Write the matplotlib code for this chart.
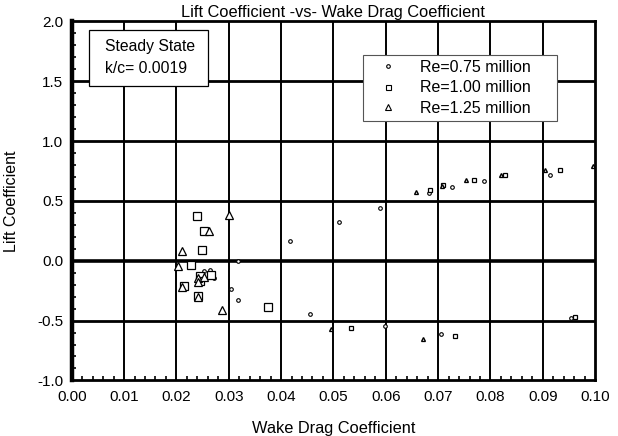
import matplotlib
matplotlib.use("Agg")
import matplotlib.pyplot as plt
from matplotlib.ticker import MultipleLocator
from matplotlib.patches import Rectangle

plt.rcParams['font.family'] = ['Liberation Sans', 'DejaVu Sans']

# Re = 0.75 million (circles)
re075_x = [0.0318, 0.0304, 0.0317, 0.0252, 0.0265, 0.0272, 0.0417, 0.0455, 0.0510,
           0.0589, 0.0598, 0.0683, 0.0706, 0.0727, 0.0787, 0.0913, 0.0953]
re075_y = [0.000, -0.239, -0.328, -0.086, -0.078, -0.147, 0.162, -0.448, 0.321,
           0.440, -0.546, 0.568, -0.615, 0.618, 0.666, 0.718, -0.479]

# Re = 1.00 million (squares) - low-drag cluster and high-drag points
re100_x = [0.0239, 0.0253, 0.0248, 0.0228, 0.0215, 0.0241, 0.0246, 0.0267, 0.0246, 0.0375]
re100_y = [0.376, 0.251, 0.089, -0.037, -0.211, -0.295, -0.128, -0.117, -0.167, -0.389]
re100_x2 = [0.0533, 0.0684, 0.0710, 0.0733, 0.0768, 0.0828, 0.0933, 0.0961]
re100_y2 = [-0.560, 0.591, 0.630, -0.627, 0.677, 0.716, 0.755, -0.470]

# Re = 1.25 million (triangles)
re125_x = [0.0300, 0.0263, 0.0211, 0.0203, 0.0210, 0.0242, 0.0288, 0.0241, 0.0253, 0.0241]
re125_y = [0.382, 0.246, 0.081, -0.044, -0.222, -0.306, -0.412, -0.147, -0.139, -0.175]
re125_x2 = [0.0495, 0.0657, 0.0672, 0.0707, 0.0754, 0.0821, 0.0905, 0.0996]
re125_y2 = [-0.573, 0.571, -0.652, 0.627, 0.672, 0.713, 0.758, 0.794]

labels = ["Re=0.75 million", "Re=1.00 million", "Re=1.25 million"]
x_ticks = [0.00, 0.01, 0.02, 0.03, 0.04, 0.05, 0.06, 0.07, 0.08, 0.09, 0.10]
y_ticks = [-1.0, -0.5, 0.0, 0.5, 1.0, 1.5, 2.0]

fig = plt.figure(figsize=(6.18, 4.36), dpi=100)
ax = fig.add_axes([0.116, 0.1275, 0.847, 0.8235])
ax.set_xlim(0, 0.10)
ax.set_ylim(-1.0, 2.0)

# grid
for xv in x_ticks[1:-1]:
    ax.axvline(xv, color='black', lw=1.4, zorder=1)
for yv in y_ticks[1:-1]:
    ax.axhline(yv, color='black', lw=2.6 if yv == 0 else 2.0, zorder=1)

kw = dict(linestyle='none', color='black', markerfacecolor='white', zorder=3)
ax.plot(re075_x, re075_y, marker='o', ms=2.6, mew=0.8, **kw)
ax.plot(re100_x, re100_y, marker='s', ms=5.4, mew=0.9, **kw)
ax.plot(re100_x2, re100_y2, marker='s', ms=3.0, mew=0.9, **kw)
ax.plot(re125_x, re125_y, marker='^', ms=5.6, mew=0.9, **kw)
ax.plot(re125_x2, re125_y2, marker='^', ms=2.8, mew=1.0, **kw)

# legend
h1, = ax.plot([], [], marker='o', ms=2.6, mew=0.8, **kw)
h2, = ax.plot([], [], marker='s', ms=3.6, mew=0.8, **kw)
h3, = ax.plot([], [], marker='^', ms=3.8, mew=0.8, **kw)
leg = ax.legend([h1, h2, h3], labels, loc='upper left',
                bbox_to_anchor=(0.557, 0.906, 0.370, 0.0), mode='expand',
                fontsize=11.5, frameon=True,
                fancybox=False, edgecolor='#555555', framealpha=1,
                handlelength=2.5, handletextpad=0.75, borderpad=0.3,
                labelspacing=0.34, borderaxespad=0)
leg.get_frame().set_linewidth(0.8)
leg.set_zorder(5)

# text box
ax.add_patch(Rectangle((0.0034, 1.462), 0.0227, 0.465, facecolor='white',
                       edgecolor='black', linewidth=0.9, zorder=5))
ax.text(0.0063, 1.794, "Steady State", fontsize=11.3, va='center', ha='left', zorder=6)
ax.text(0.0063, 1.607, "k/c= 0.0019", fontsize=11.3, va='center', ha='left', zorder=6)

ax.set_xticks(x_ticks)
ax.set_xticklabels([f"{v:.2f}" for v in x_ticks])
ax.set_yticks(y_ticks)
ax.set_yticklabels([f"{v:.1f}" for v in y_ticks])
ax.xaxis.set_minor_locator(MultipleLocator(0.002))
ax.yaxis.set_minor_locator(MultipleLocator(0.1))
ax.tick_params(axis='both', which='major', length=0, labelsize=11)
ax.tick_params(axis='x', which='major', pad=7)
ax.tick_params(axis='y', which='major', pad=6)
ax.tick_params(axis='both', which='minor', direction='in', length=3, width=1.2,
               top=False, right=False)

for s in ax.spines.values():
    s.set_linewidth(2.0)
    s.set_zorder(4)
ax.spines['left'].set_linewidth(3.2)

ax.set_title("Lift Coefficient -vs- Wake Drag Coefficient", fontsize=11.8, pad=3)
ax.set_xlabel("Wake Drag Coefficient", fontsize=11.8, labelpad=12)
ax.set_ylabel("Lift Coefficient", fontsize=11.5, labelpad=13)

fig.savefig("out.png", dpi=100)
